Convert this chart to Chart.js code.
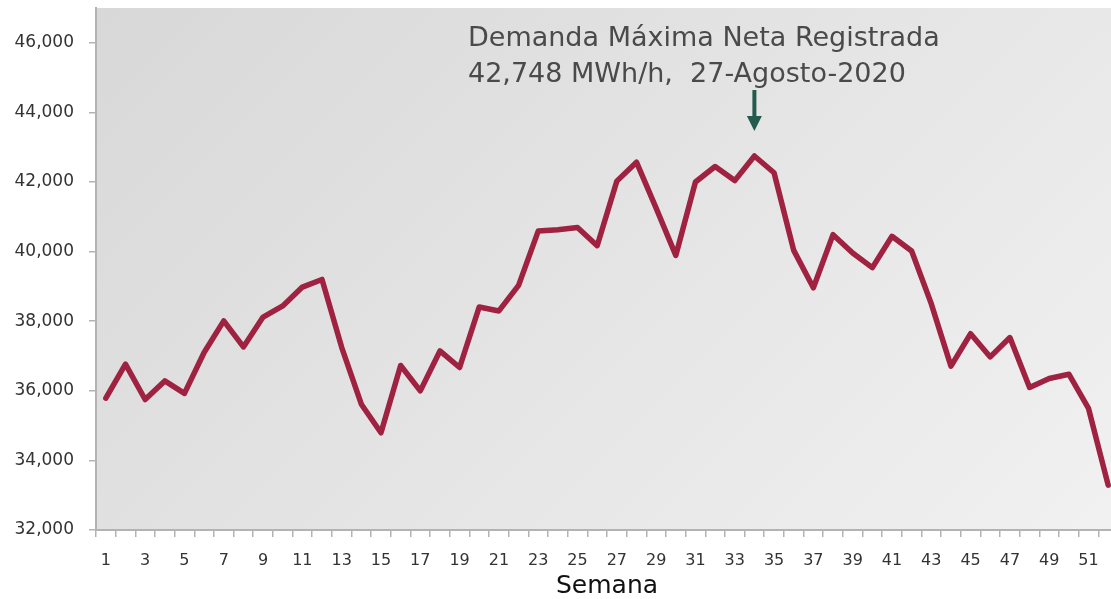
<!DOCTYPE html>
<html>
<head>
<meta charset="utf-8">
<script src="https://cdn.jsdelivr.net/npm/chart.js@4/dist/chart.umd.min.js"></script>
<style>
  html, body { margin: 0; padding: 0; background: #fff; overflow: hidden; }
</style>
</head>
<body>
<canvas id="demandChart" width="1118" height="599"></canvas>
<script>
// semanas del año
const weeks = ['1','2','3','4','5','6','7','8','9','10','11','12','13','14','15','16','17','18','19','20',
  '21','22','23','24','25','26','27','28','29','30','31','32','33','34','35','36','37','38','39','40',
  '41','42','43','44','45','46','47','48','49','50','51','52'];

// demanda máxima neta semanal (MWh/h)
const demand = [35790, 36765, 35750, 36285, 35925, 37100, 38010, 37260, 38120, 38440,
  38980, 39200, 37250, 35615, 34795, 36727, 35998, 37146, 36670, 38410,
  38295, 39030, 40590, 40630, 40690, 40170, 42025, 42570, 41250, 39890,
  42000, 42445, 42040, 42748, 42265, 40036, 38960, 40487, 39960, 39540,
  40440, 40016, 38500, 36707, 37640, 36974, 37530, 36095, 36354, 36477,
  35493, 33290];

const yTicks = [32000, 34000, 36000, 38000, 40000, 42000, 44000, 46000];
const peakIndex = 33;
const noteLines = ['Demanda Máxima Neta Registrada', '42,748 MWh/h,  27-Agosto-2020'];

const fontFamily = '"DejaVu Sans", sans-serif';

// fondo degradado (45°) del área de gráfica
const areaBackground = {
  id: 'areaBackground',
  beforeDraw(chart) {
    const { ctx, chartArea: a } = chart;
    const w = a.right - a.left, h = a.bottom - a.top;
    const d = (w + h) / 2;
    const g = ctx.createLinearGradient(a.left, a.top, a.left + d, a.top + d);
    g.addColorStop(0, '#d8d8d8');
    g.addColorStop(1, '#f1f1f1');
    ctx.save();
    ctx.fillStyle = g;
    ctx.fillRect(a.left, a.top, w, h);
    ctx.restore();
  }
};

// nota y flecha sobre el máximo
const peakNote = {
  id: 'peakNote',
  afterDraw(chart) {
    const ctx = chart.ctx;
    const x = chart.scales.x.getPixelForValue(peakIndex);
    const py = chart.scales.y.getPixelForValue(demand[peakIndex]);
    ctx.save();
    ctx.fillStyle = '#4a4a4a';
    ctx.font = '27px ' + fontFamily;
    ctx.textBaseline = 'alphabetic';
    ctx.fillText(noteLines[0], 468, 46);
    ctx.fillText(noteLines[1], 468, 82);

    const tip = py - 25;
    ctx.strokeStyle = '#235b4e';
    ctx.fillStyle = '#235b4e';
    ctx.lineWidth = 4;
    ctx.beginPath();
    ctx.moveTo(x, tip - 41);
    ctx.lineTo(x, tip - 12);
    ctx.stroke();
    ctx.beginPath();
    ctx.moveTo(x - 7.5, tip - 15);
    ctx.lineTo(x + 7.5, tip - 15);
    ctx.lineTo(x, tip);
    ctx.closePath();
    ctx.fill();
    ctx.restore();
  }
};

const ctx = document.getElementById('demandChart').getContext('2d');
new Chart(ctx, {
  type: 'line',
  data: {
    labels: weeks,
    datasets: [{
      data: demand,
      borderColor: '#9f2241',
      borderWidth: 5.5,
      borderJoinStyle: 'round',
      borderCapStyle: 'round',
      pointRadius: 0,
      tension: 0,
      fill: false
    }]
  },
  options: {
    responsive: false,
    animation: false,
    layout: { padding: { top: 8, left: 0, right: 0, bottom: 0 } },
    plugins: { legend: { display: false }, tooltip: { enabled: false } },
    scales: {
      x: {
        offset: true,
        grid: { display: true, drawOnChartArea: false, drawTicks: true, tickLength: 7, color: '#b3b3b3', lineWidth: 1.5, offset: true },
        border: { display: true, color: '#b3b3b3', width: 2 },
        ticks: {
          autoSkip: false,
          maxRotation: 0,
          padding: 14,
          color: '#333',
          font: { family: fontFamily, size: 16 },
          callback: (v, i) => (i % 2 === 0 ? weeks[i] : '')
        },
        title: {
          display: true,
          text: 'Semana',
          color: '#111',
          font: { family: fontFamily, size: 25, lineHeight: 1 },
          padding: { top: 0, bottom: 0 }
        },
        afterFit(scale) {
          scale.height = 69;
          scale.paddingLeft = 0;
          scale.paddingRight = 0;
        }
      },
      y: {
        min: 32000,
        max: 47000,
        afterBuildTicks(scale) { scale.ticks = yTicks.map(v => ({ value: v })); },
        grid: { display: true, drawOnChartArea: false, drawTicks: true, tickLength: 7, color: '#b3b3b3', lineWidth: 1.5 },
        border: { display: true, color: '#b3b3b3', width: 2 },
        ticks: {
          padding: 15,
          color: '#333',
          font: { family: fontFamily, size: 17 },
          callback: v => v.toLocaleString('en-US')
        },
        afterFit(scale) {
          scale.width = 96;
          scale.paddingTop = 0;
          scale.paddingBottom = 0;
        }
      }
    }
  },
  plugins: [areaBackground, peakNote]
});
</script>
</body>
</html>
